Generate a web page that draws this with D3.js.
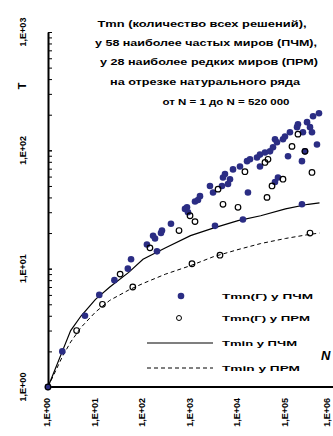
<!DOCTYPE html>
<html>
<head>
<meta charset="utf-8">
<script src="https://cdn.jsdelivr.net/npm/d3@7"></script>
<style>
  body { margin: 0; background: #fff; }
  svg { display: block; font-family: "Liberation Sans", Arial, sans-serif; }
</style>
</head>
<body>
<svg id="chart" width="333" height="436"></svg>
<script>
// данные
const titleLines = [
  "Tmn (количество всех решений),",
  "у 58 наиболее частых миров (ПЧМ),",
  "у 28 наиболее редких миров (ПРМ)",
  "на отрезке натурального ряда",
  "от N = 1 до N = 520 000"
];
const legendLabels = ["Tmn(Г) у ПЧМ", "Tmn(Г) у ПРМ", "Tmin у ПЧМ", "Tmin у ПРМ"];
const xTickValues = [1, 10, 100, 1e3, 1e4, 1e5, 1e6];
const xTickLabels = ["1,E+00", "1,E+01", "1,E+02", "1,E+03", "1,E+04", "1,E+05", "1,E+06"];
const yTickValues = [1, 10, 100, 1000];
const yTickLabels = ["1,E+00", "1,E+01", "1,E+02", "1,E+03"];

// Tmn(Г) у ПЧМ - закрашенные точки
const pchmN = [1, 2, 6, 12, 25, 48, 56, 121, 163, 179, 197, 239, 251, 388, 766, 844, 886, 1244, 1438, 1585,
  2570, 2980, 3280, 4600, 4830, 5320, 6160, 6780, 7850, 11000, 12700, 15500, 16200, 17900, 25100, 29000, 29000,
  37000, 47200, 54600, 60100, 60100, 66100, 69500, 88500, 97500, 113000, 124000, 175000, 183000, 222000, 222000,
  233000, 257000, 284000, 328000, 361000, 380000, 460000, 507000];
const pchmT = [1, 2, 4, 6, 8, 10, 12, 16, 19, 18, 14, 20, 21, 24, 32, 33, 30, 37, 38, 41,
  50, 44, 23, 50, 59, 63, 52, 57, 69, 73, 26, 81, 44, 84, 87, 92, 73,
  96, 98, 106, 124, 54, 117, 59, 124, 131, 89, 142, 157, 166, 81, 35,
  142, 98, 173, 157, 142, 194, 112, 206];

// Tmn(Г) у ПРМ - пустые кружки
const prmN = [1, 4, 14, 33, 61, 140, 573, 977, 1075, 1244, 3800, 4170, 4830, 10000, 14000, 37000, 40800,
  42800, 52000, 88500, 137000, 183000, 257000, 328000, 361000];
const prmT = [1, 3, 5, 9, 7, 15, 21, 28, 11, 25, 47, 13, 35, 33, 66, 79, 40,
  84, 50, 57, 108, 137, 98, 20, 65];

// Tmin у ПЧМ - сплошная линия
const tminPchmN = [1, 2, 3, 5, 10, 20, 50, 100, 300, 1000, 3000, 10000, 30000, 100000, 300000, 520000];
const tminPchmT = [1, 2, 3, 4, 5.5, 7, 9.3, 12, 15, 19, 22, 25.5, 28, 32, 35, 36];

// Tmin у ПРМ - пунктир
const tminPrmN = [1, 2, 3, 5, 10, 20, 50, 100, 300, 1000, 3000, 10000, 30000, 100000, 300000, 520000];
const tminPrmT = [1, 1.8, 2.4, 3.2, 4.3, 5.4, 6.6, 7.5, 9, 10.6, 12.6, 14.5, 16.3, 18, 19.4, 20];

const blue = "#2b2d84";
const svg = d3.select("#chart");

const x = d3.scaleLog().domain([1, 1e6]).range([48, 333]);
const y = d3.scaleLog().domain([1, 1000]).range([387, 32]);

// заголовок
const titleY = [27, 46, 65, 85, 105];
const titleX = [202, 206, 209, 205, 226];
const titleW = [209, 222, 218, 190, 127];
svg.append("g").selectAll("text")
  .data(titleLines)
  .enter().append("text")
  .attr("x", (d, i) => titleX[i])
  .attr("y", (d, i) => titleY[i])
  .attr("text-anchor", "middle")
  .attr("font-size", 9)
  .attr("font-weight", "bold")
  .attr("textLength", (d, i) => titleW[i])
  .attr("lengthAdjust", "spacingAndGlyphs")
  .text(d => d);

// ось Y - мелкие деления внутрь
const yMinor = [];
[1, 10, 100].forEach(dec => { for (let k = 1; k <= 10; k++) yMinor.push(dec * k); });
svg.append("g")
  .attr("transform", "translate(48,0)")
  .call(d3.axisLeft(y).tickValues(yMinor).tickSizeInner(-4).tickSizeOuter(0).tickFormat(""))
  .call(g => g.select(".domain").attr("stroke-width", 2))
  .call(g => g.selectAll(".tick line").attr("stroke-width", 1));

// ось X
svg.append("g")
  .attr("transform", "translate(0,387)")
  .call(d3.axisBottom(x).tickValues(xTickValues).tickSize(0).tickFormat(""))
  .call(g => g.select(".domain").attr("stroke-width", 2).attr("d", "M48,0H340"));

// подписи осей
svg.append("g").selectAll("text")
  .data(yTickValues)
  .enter().append("text")
  .attr("transform", d => `translate(26,${y(d)}) rotate(-90)`)
  .attr("text-anchor", "middle")
  .attr("font-size", 9)
  .attr("font-weight", "bold")
  .text((d, i) => yTickLabels[i]);

svg.append("g").selectAll("text")
  .data(xTickValues)
  .enter().append("text")
  .attr("transform", d => `translate(${Math.min(x(d) + 2, 330)},398) rotate(-90)`)
  .attr("text-anchor", "end")
  .attr("font-size", 9)
  .attr("font-weight", "bold")
  .text((d, i) => xTickLabels[i]);

svg.append("text")
  .attr("transform", "translate(26,86) rotate(-90)")
  .attr("text-anchor", "middle")
  .attr("font-size", 11)
  .attr("font-weight", "bold")
  .text("T");

svg.append("text")
  .attr("x", 321).attr("y", 360)
  .attr("font-size", 13)
  .attr("font-style", "italic")
  .attr("font-weight", "bold")
  .text("N");

// линии Tmin
const line = d3.line().x(d => x(d[0])).y(d => y(d[1]));
svg.append("path")
  .datum(d3.zip(tminPrmN, tminPrmT))
  .attr("fill", "none").attr("stroke", "#000").attr("stroke-width", 1)
  .attr("stroke-dasharray", "4,3")
  .attr("d", line);
svg.append("path")
  .datum(d3.zip(tminPchmN, tminPchmT))
  .attr("fill", "none").attr("stroke", "#000").attr("stroke-width", 1.2)
  .attr("d", line);

// точки
svg.append("g").selectAll("circle")
  .data(d3.zip(pchmN, pchmT))
  .enter().append("circle")
  .attr("cx", d => x(d[0])).attr("cy", d => y(d[1]))
  .attr("r", 3.3).attr("fill", blue);

svg.append("g").selectAll("circle")
  .data(d3.zip(prmN, prmT))
  .enter().append("circle")
  .attr("cx", d => x(d[0])).attr("cy", d => y(d[1]))
  .attr("r", 2.8).attr("fill", "none").attr("stroke", "#000").attr("stroke-width", 1.2);

// легенда
const legY = [296, 318, 343, 368];
const leg = svg.append("g");
leg.append("circle").attr("cx", 181).attr("cy", legY[0]).attr("r", 3.3).attr("fill", blue);
leg.append("circle").attr("cx", 179).attr("cy", legY[1]).attr("r", 2.5)
  .attr("fill", "none").attr("stroke", "#000").attr("stroke-width", 1);
leg.append("line").attr("x1", 147).attr("x2", 213).attr("y1", legY[2]).attr("y2", legY[2])
  .attr("stroke", "#000").attr("stroke-width", 1.2);
leg.append("line").attr("x1", 147).attr("x2", 213).attr("y1", legY[3]).attr("y2", legY[3])
  .attr("stroke", "#000").attr("stroke-width", 1).attr("stroke-dasharray", "4,3");
const legW = [91, 88, 75, 78];
leg.selectAll("text")
  .data(legendLabels)
  .enter().append("text")
  .attr("x", 222)
  .attr("y", (d, i) => legY[i] + 3)
  .attr("font-size", 8)
  .attr("font-weight", "bold")
  .attr("textLength", (d, i) => legW[i])
  .attr("lengthAdjust", "spacingAndGlyphs")
  .text(d => d);
</script>
</body>
</html>
